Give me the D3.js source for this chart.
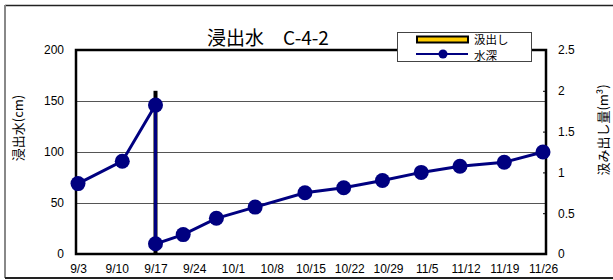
<!DOCTYPE html>
<html>
<head>
<meta charset="utf-8">
<script src="https://cdn.jsdelivr.net/npm/d3@7"></script>
<style>
  body { margin: 0; background: #fff; }
  text { font-family: 'Noto Sans CJK JP', 'Liberation Sans', sans-serif; }
</style>
</head>
<body>
<div id="chart"></div>
<script>
// data
const tickDates = ['9/3', '9/10', '9/17', '9/24', '10/1', '10/8', '10/15', '10/22', '10/29', '11/5', '11/12', '11/19', '11/26']
const depthDates = ['9/3', '9/11', '9/17', '9/17', '9/22', '9/28', '10/5', '10/14', '10/21', '10/28', '11/4', '11/11', '11/19', '11/26']
const depthValues = [69, 91, 146, 10, 19, 35, 46, 60, 65, 72, 80, 86, 90, 100]
const pumpDates = ['9/17']
const pumpValues = [2.0]
const leftTicks = [0, 50, 100, 150, 200]
const rightTicks = [0, 0.5, 1, 1.5, 2, 2.5]

const parse = s => {
  const [m, d] = s.split('/').map(Number)
  return new Date(2000, m - 1, d)
}

const width = 613
const height = 280
const plot = { left: 76, right: 546, top: 50, bottom: 254 }

const svg = d3
  .select('#chart')
  .append('svg')
  .attr('width', width)
  .attr('height', height)

const x = d3
  .scaleTime()
  .domain([parse('9/3'), parse('11/26')])
  .range([78, 543])

const yLeft = d3.scaleLinear().domain([0, 200]).range([plot.bottom, plot.top])
const yRight = d3.scaleLinear().domain([0, 2.5]).range([plot.bottom, plot.top])

// outer frame
svg.append('line').attr('x1', 5).attr('x2', width).attr('y1', 5.5).attr('y2', 5.5)
  .attr('stroke', '#222').attr('stroke-width', 1.5)
svg.append('line').attr('x1', 5).attr('x2', 5).attr('y1', 5).attr('y2', 278)
  .attr('stroke', '#888').attr('stroke-width', 2)
svg.append('line').attr('x1', 5).attr('x2', width).attr('y1', 278).attr('y2', 278)
  .attr('stroke', '#222').attr('stroke-width', 2)

// grid lines
svg.append('g')
  .selectAll('line')
  .data(leftTicks.filter(d => d > 0 && d < 200))
  .enter()
  .append('line')
  .attr('x1', plot.left)
  .attr('x2', plot.right)
  .attr('y1', d => Math.round(yLeft(d)) + 0.5)
  .attr('y2', d => Math.round(yLeft(d)) + 0.5)
  .attr('stroke', '#555')
  .attr('stroke-width', 1)

// left axis
const leftAxis = svg.append('g')
  .attr('transform', `translate(${plot.left},0)`)
  .call(d3.axisLeft(yLeft).tickValues(leftTicks).tickSize(0).tickPadding(12))
leftAxis.select('.domain').remove()
leftAxis.selectAll('text').attr('font-size', 12).attr('fill', '#000')
  .style('font-family', 'Liberation Sans, sans-serif')

// right axis
const rightAxis = svg.append('g')
  .attr('transform', `translate(${plot.right},0)`)
  .call(d3.axisRight(yRight).tickValues(rightTicks).tickSize(-3).tickPadding(12)
    .tickFormat(d => d))
rightAxis.select('.domain').remove()
rightAxis.selectAll('line').attr('stroke', '#000')
rightAxis.selectAll('text').attr('font-size', 12).attr('fill', '#000')
  .style('font-family', 'Liberation Sans, sans-serif')

// bottom axis labels
const bottomAxis = svg.append('g')
  .attr('transform', `translate(0,${plot.bottom})`)
  .call(d3.axisBottom(x).tickValues(tickDates.map(parse)).tickSize(0).tickPadding(10)
    .tickFormat((d, i) => tickDates[i]))
bottomAxis.select('.domain').remove()
bottomAxis.selectAll('text').attr('font-size', 12).attr('fill', '#000')
  .style('font-family', 'Liberation Sans, sans-serif')

// plot frame
svg.append('path')
  .attr('d', `M${plot.left},${plot.top}H${plot.right}V${plot.bottom}H${plot.left}Z`)
  .attr('fill', 'none')
  .attr('stroke', '#000')
  .attr('stroke-width', 2.5)

// pumping bars
svg.append('g')
  .selectAll('rect')
  .data(pumpValues)
  .enter()
  .append('rect')
  .attr('x', (d, i) => x(parse(pumpDates[i])) - 2)
  .attr('y', d => yRight(d))
  .attr('width', 4)
  .attr('height', d => yRight(0) - yRight(d))
  .attr('fill', '#000')

// water depth line
const pts = depthValues.map((v, i) => ({ date: parse(depthDates[i]), value: v }))
const line = d3.line().x(d => x(d.date)).y(d => yLeft(d.value))

svg.append('path')
  .datum(pts)
  .attr('d', line)
  .attr('fill', 'none')
  .attr('stroke', '#000080')
  .attr('stroke-width', 3)

svg.append('g')
  .selectAll('circle')
  .data(pts)
  .enter()
  .append('circle')
  .attr('cx', d => x(d.date))
  .attr('cy', d => yLeft(d.value))
  .attr('r', 7.5)
  .attr('fill', '#000080')

// title
svg.append('text')
  .text('浸出水　C-4-2')
  .attr('x', 268)
  .attr('y', 45)
  .attr('text-anchor', 'middle')
  .attr('font-size', 19)

// axis titles
svg.append('text')
  .text('浸出水(cm)')
  .attr('transform', 'translate(23,128) rotate(-90)')
  .attr('text-anchor', 'middle')
  .attr('font-size', 13)

svg.append('text')
  .text('汲み出し量(m³)')
  .attr('transform', 'translate(608,130) rotate(-90)')
  .attr('text-anchor', 'middle')
  .attr('font-size', 13)

// legend
const legend = svg.append('g')
legend.append('rect')
  .attr('x', 397.5).attr('y', 32.5).attr('width', 134).attr('height', 29)
  .attr('fill', '#fff').attr('stroke', '#444').attr('stroke-width', 1)
legend.append('rect')
  .attr('x', 417).attr('y', 36.5).attr('width', 51).attr('height', 6)
  .attr('fill', '#FFCC00').attr('stroke', '#000').attr('stroke-width', 2)
legend.append('line')
  .attr('x1', 416).attr('x2', 468).attr('y1', 54).attr('y2', 54)
  .attr('stroke', '#000080').attr('stroke-width', 2)
legend.append('circle')
  .attr('cx', 443).attr('cy', 54).attr('r', 4.5).attr('fill', '#000080')
legend.append('text').text('汲出し').attr('x', 474).attr('y', 43.5).attr('font-size', 11.5)
legend.append('text').text('水深').attr('x', 474).attr('y', 59.5).attr('font-size', 11.5)
</script>
</body>
</html>
